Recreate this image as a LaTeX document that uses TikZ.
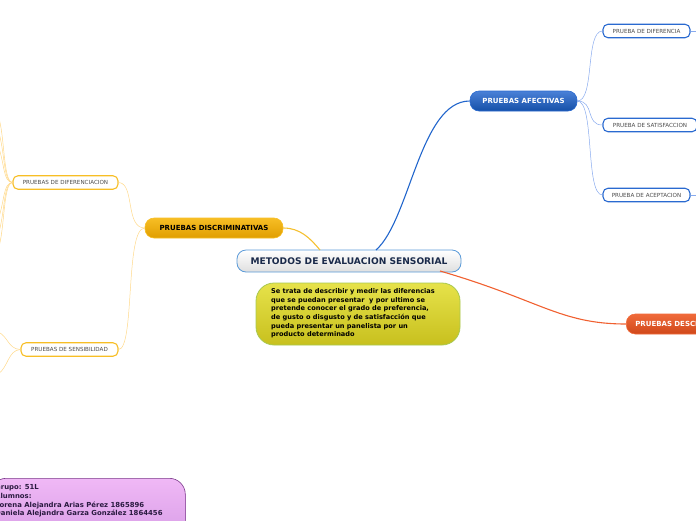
\documentclass[tikz,border=0pt]{standalone}
\usepackage{fontspec}
\setmainfont{DejaVu Sans}
\usepackage{xcolor}
\usetikzlibrary{positioning}

\definecolor{titleborder}{HTML}{5A9AD8}
\definecolor{titletext}{HTML}{1A2A4A}
\definecolor{afecblue}{HTML}{2A6AD0}
\definecolor{afecdark}{HTML}{1550A8}
\definecolor{afecline}{HTML}{2266CC}
\definecolor{afecleaf}{HTML}{88AAEE}
\definecolor{discyellow}{HTML}{F7BE25}
\definecolor{discdark}{HTML}{E09E00}
\definecolor{discline}{HTML}{F5C030}
\definecolor{discleaf}{HTML}{FFD98A}
\definecolor{descred}{HTML}{F06A3A}
\definecolor{descdark}{HTML}{D0481A}
\definecolor{descline}{HTML}{F06030}
\definecolor{notetop}{HTML}{E6E24A}
\definecolor{notebottom}{HTML}{C8C01E}
\definecolor{noteborder}{HTML}{A8C850}
\definecolor{purpletop}{HTML}{F0B8F6}
\definecolor{purplebottom}{HTML}{D49AE4}
\definecolor{purpleborder}{HTML}{7A3A8A}
\definecolor{purpletext}{HTML}{2A1A40}

\tikzset{
  mainbox/.style={rounded corners=9pt, draw=titleborder, line width=0.8pt,
    top color=white, bottom color=gray!25, text=titletext,
    font=\fontsize{9.1}{11}\selectfont\bfseries, minimum width=224pt, minimum height=22pt},
  topicbox/.style={rounded corners=9pt, text=white, line width=0.6pt,
    font=\fontsize{7}{8}\selectfont\bfseries, minimum height=20pt},
  leafbox/.style={rounded corners=5pt, fill=white, line width=1.1pt,
    text=black!70, font=\fontsize{5.6}{6}\selectfont, minimum height=13.5pt, inner sep=1pt},
  leafline/.style={line width=0.5pt},
  branch/.style={line width=1.1pt}
}

\begin{document}
\begin{tikzpicture}[x=1pt, y=-1pt]
  \useasboundingbox (0,0) rectangle (696,520);
  \clip (0,0) rectangle (696,520);

  % Connectors from the centre
  \coordinate (c-af) at (376,250);
  \coordinate (c-di) at (320,250);
  \coordinate (c-de) at (440,271);

  % Central topic
  \node[mainbox] (central) at (349,261) {METODOS DE EVALUACION SENSORIAL};

  % Note
  \node[rounded corners=18pt, draw=noteborder, line width=0.8pt,
    top color=notetop, bottom color=notebottom,
    minimum width=204pt, minimum height=62pt] (note) at (358,314) {};
  \node[anchor=north west, align=left, inner sep=0pt,
    font=\fontsize{6.6}{8.6}\selectfont\bfseries] (notetext) at (271,288.5)
    {Se trata de describir y medir las diferencias\\
     que se puedan presentar \ y por ultimo se\\
     pretende conocer el grado de preferencia,\\
     de gusto o disgusto y de satisfacción que\\
     pueda presentar un panelista por un\\
     producto determinado};

  % Pruebas afectivas
  \node[topicbox, top color=afecblue!85, bottom color=afecdark, draw=afecblue,
    minimum width=107pt] (afec) at (523.5,101) {PRUEBAS AFECTIVAS};
  \node[leafbox, draw=afecblue, minimum width=87pt] (dif) at (646.5,31) {PRUEBA DE DIFERENCIA};
  \node[leafbox, draw=afecblue, minimum width=94pt] (sat) at (650,125) {PRUEBA DE SATISFACCION};
  \node[leafbox, draw=afecblue, minimum width=87pt] (acep) at (646.5,195) {PRUEBA DE ACEPTACION};

  % Pruebas descriptivas
  \node[topicbox, top color=descred, bottom color=descdark, draw=descred,
    minimum width=130pt, anchor=west, text width=112pt, align=left] (desc) at (626,324) {PRUEBAS DESCRIPTIVAS};

  % Pruebas discriminativas
  \node[topicbox, top color=discyellow, bottom color=discdark, draw=discyellow,
    text=black, minimum width=138pt] (disc) at (214,228) {PRUEBAS DISCRIMINATIVAS};
  \node[leafbox, draw=discyellow, minimum width=105pt] (difc) at (65.5,182.5) {PRUEBAS DE DIFERENCIACION};
  \node[leafbox, draw=discyellow, minimum width=97pt] (sens) at (69.5,349.5) {PRUEBAS DE SENSIBILIDAD};

  % Branches
  \draw[branch, afecline] (c-af) .. controls (410,220) and (420,101) .. (afec.west);
  \draw[branch, discline] (c-di) .. controls (310,238) and (300,228) .. (disc.east);
  \draw[branch, descline] (c-de) .. controls (540,300) and (560,324) .. (desc.west);

  % Leaf connectors
  \foreach \leaf in {dif, sat, acep}
    \draw[leafline, afecleaf] (afec.east) .. controls (595,101) and (585,0 |- \leaf.west) .. (\leaf.west);
  \draw[leafline, afecleaf] (dif.east) -- ++(8,0);
  \draw[leafline, afecleaf] (acep.east) -- ++(8,0);
  \draw[leafline, discleaf] (disc.west) .. controls (125,228) and (135,183) .. (difc.east);
  \draw[leafline, discleaf] (disc.west) .. controls (125,228) and (135,349) .. (sens.east);

  % Branches leaving the picture on the left
  \foreach \yy in {135,150,165}
    \draw[leafline, discleaf] (difc.west) .. controls (3,182) and (5,\yy) .. (-2,\yy-20);
  \foreach \yy in {200,215,230}
    \draw[leafline, discleaf] (difc.west) .. controls (3,183) and (5,\yy) .. (-2,\yy+20);
  \draw[leafline, discleaf] (sens.west) .. controls (8,349) and (8,336) .. (-2,332);
  \draw[leafline, discleaf] (sens.west) .. controls (8,350) and (8,368) .. (-2,374);

  % Group box
  \node[rounded corners=16pt, draw=purpleborder, line width=0.6pt,
    top color=purpletop, bottom color=purplebottom,
    minimum width=195pt, minimum height=70pt, anchor=north west] (group) at (-10,478) {};
  \node[anchor=north west, align=left, inner sep=0pt, text=purpletext,
    font=\fontsize{6.9}{8.7}\selectfont\bfseries] (grouptext) at (-5,484.5)
    {Grupo: 51L\\
     Alumnos:\\
     Lorena Alejandra Arias Pérez 1865896\\
     Daniela Alejandra Garza González 1864456};
\end{tikzpicture}
\end{document}
